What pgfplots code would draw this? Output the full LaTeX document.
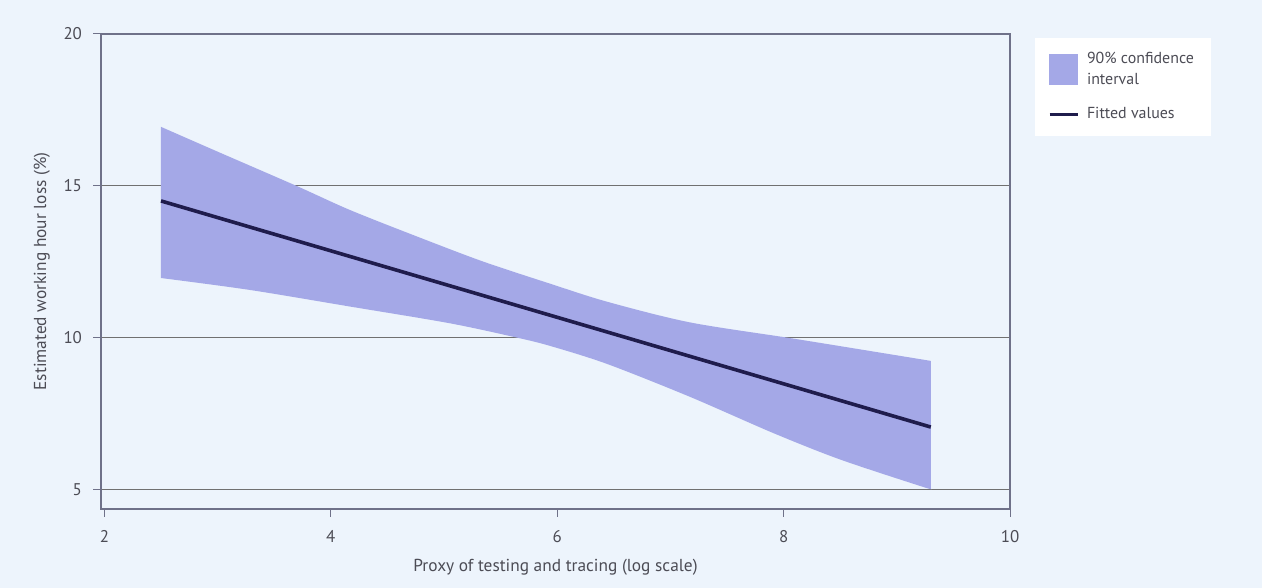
\documentclass[border=0pt]{standalone}
\usepackage{pgfplots}
\pgfplotsset{compat=1.18}
\usepgfplotslibrary{fillbetween}
\usepackage{fontspec}
\setmainfont{PT Sans}

\definecolor{bgc}{HTML}{EDF4FC}
\definecolor{bandc}{HTML}{A4A8E7}
\definecolor{fitc}{HTML}{1F1C4C}
\definecolor{framec}{HTML}{6F7189}
\definecolor{gridc}{HTML}{707070}
\definecolor{txtc}{HTML}{4C4C55}

\begin{document}
\begin{tikzpicture}
\begin{axis}[
    at={(50.5bp,39.5bp)}, anchor=south west,
    scale only axis,
    width=454.5bp, height=237.5bp,
    xmin=1.97, xmax=10,
    ymin=4.35, ymax=20,
    xtick={2,4,6,8,10},
    ytick={5,10,15,20},
    xtick pos=bottom, ytick pos=left,
    tick align=outside,
    major tick length=4bp,
    tick style={color=framec, line width=0.5bp},
    ymajorgrids,
    grid style={color=gridc, line width=0.5bp},
    axis line style={color=framec, line width=1bp},
    /pgf/number format/assume math mode=true,
    ticklabel style={font=\fontsize{8.5}{10}\selectfont, color=txtc},
    yticklabel style={xshift=-2bp},
    xticklabel style={yshift=-3bp},
    xlabel={Proxy of testing and tracing (log scale)},
    ylabel={Estimated working hour loss (\%)},
    label style={font=\fontsize{8.7}{10}\selectfont, color=txtc},
    xlabel style={yshift=-1.5bp},
    legend cell align=left,
    legend style={
        at={(1.0275,0.992)}, anchor=north west,
        fill=white, draw=none,
        font=\fontsize{8}{10.5}\selectfont, text=txtc,
        inner xsep=6.5bp, inner ysep=5bp,
        row sep=6bp,
        cells={align=left},
        /tikz/every odd column/.append style={column sep=2bp},
    },
]
% page background, behind grid and band
\begin{pgfonlayer}{axis background}
\fill[bgc] (rel axis cs:-0.112,-0.167) rectangle (rel axis cs:1.278,1.072);
\end{pgfonlayer}

% confidence band edges
\addplot[name path=up, draw=none, smooth, forget plot] coordinates {
    (2.50,16.94) (2.99,16.14) (3.70,14.99) (4.17,14.20) (4.76,13.33)
    (5.34,12.51) (5.94,11.77) (6.44,11.18) (7.17,10.50) (8.06,9.98)
    (8.79,9.54) (9.30,9.23)
};
\addplot[name path=lo, draw=none, smooth, forget plot] coordinates {
    (2.50,11.96) (3.28,11.57) (4.17,11.02) (5.05,10.47) (5.64,10.00)
    (5.94,9.72) (6.44,9.13) (7.17,8.05) (7.91,6.85) (8.50,5.98)
    (9.23,5.08) (9.30,5.02)
};
\addplot[fill=bandc, draw=none, forget plot] fill between[of=up and lo];

% fitted values
\addplot[fitc, line width=1.8bp, forget plot] coordinates {
    (2.5,14.5) (9.30,7.05)
};

\addlegendimage{legend image code/.code={\fill[bandc] (0bp,-7.5bp) rectangle (14bp,7.5bp);}}
\addlegendentry{90\% confidence\\interval}
\addlegendimage{legend image code/.code={\draw[fitc, line width=1.3bp] (0bp,0bp) -- (14bp,0bp);}}
\addlegendentry{Fitted values}
\end{axis}
% page size: 1262 x 588 px at 0.5bp per px
\path (0bp,0bp) rectangle (631bp,294bp);
\end{tikzpicture}
\end{document}
